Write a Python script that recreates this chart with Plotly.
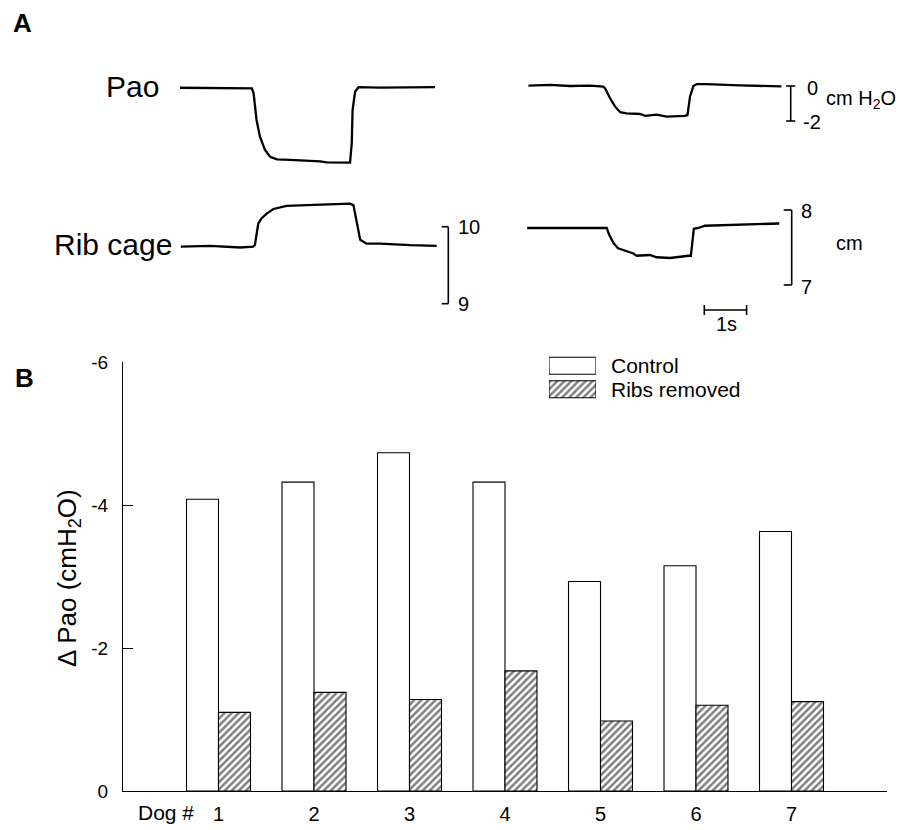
import plotly.graph_objects as go

W, H = 910, 830
OFF = 8  # page offset of the plot div (body margin)
FONT = "Liberation Sans, Arial, Helvetica, sans-serif"

# ---------------- Panel A data ----------------
# time in s, Pao in cmH2O, rib cage in cm
pao_ctrl_t = [0.00, 0.47, 0.95, 1.42, 1.70, 1.74, 1.81, 1.89, 2.01, 2.13, 2.29, 2.60, 3.00, 3.31,
              3.47, 3.78, 4.02, 4.06, 4.08, 4.14, 4.22, 4.73, 5.44, 6.03]
pao_ctrl_v = [-0.10, -0.11, -0.10, -0.13, -0.13, -0.42, -1.94, -2.90, -3.66, -4.04, -4.19, -4.22,
              -4.25, -4.31, -4.36, -4.37, -4.38, -3.27, -1.37, -0.33, -0.07, -0.09, -0.09, -0.07]

rib_ctrl_t = [0.02, 0.71, 1.42, 1.73, 1.77, 1.81, 1.85, 1.93, 2.05, 2.21, 2.52, 3.00, 3.47, 4.02,
              4.10, 4.18, 4.26, 4.41, 4.73, 5.44, 6.07]
rib_ctrl_v = [9.74, 9.75, 9.73, 9.74, 9.76, 9.91, 10.04, 10.11, 10.17, 10.23, 10.27, 10.28, 10.29,
              10.30, 10.28, 10.04, 9.83, 9.78, 9.78, 9.76, 9.75]

pao_rem_t = [0.01, 0.52, 0.99, 1.47, 1.78, 1.82, 1.94, 2.06, 2.18, 2.33, 2.65, 2.77, 3.04, 3.28,
             3.71, 3.77, 3.83, 3.91, 3.99, 4.22, 5.01, 5.99]
pao_rem_v = [0.02, 0.06, 0.00, 0.02, -0.04, -0.13, -0.70, -1.18, -1.50, -1.56, -1.60, -1.71, -1.64,
             -1.75, -1.71, -1.66, -0.61, 0.00, 0.11, 0.11, 0.03, -0.02]

rib_rem_t = [-0.02, 0.76, 1.47, 1.86, 1.92, 2.02, 2.13, 2.33, 2.49, 2.57, 2.88, 3.04, 3.36, 3.79,
             3.85, 3.92, 4.03, 4.18, 4.85, 5.94]
rib_rem_v = [7.76, 7.76, 7.76, 7.76, 7.67, 7.56, 7.49, 7.45, 7.42, 7.39, 7.40, 7.37, 7.36, 7.39,
             7.39, 7.75, 7.76, 7.79, 7.80, 7.82]

# scale bars
pao_scale = [0, -2]          # cm H2O
rib_ctrl_scale = [10, 9]     # cm
rib_rem_scale = [8, 7]       # cm
time_scale = 1               # s

# ---------------- Panel B data ----------------
dogs = [1, 2, 3, 4, 5, 6, 7]
control = [-4.08, -4.32, -4.73, -4.32, -2.93, -3.15, -3.63]
ribs_removed = [-1.10, -1.38, -1.28, -1.68, -0.98, -1.20, -1.25]
series_names = ["Control", "Ribs removed"]
y_ticks = [0, -2, -4, -6]
y_ticktext = ["0", "-2", "-4", "-6"]


def px(x):
    """target screen x pixel -> paper fraction"""
    return (x - OFF) / W


def py(y):
    """target screen y pixel -> paper fraction"""
    return 1 - (y - OFF) / H


PX_PER_S = 42.3


def t_left(p):
    return (p - 180) / PX_PER_S


def t_right(p):
    return (p - 528) / PX_PER_S


def v_pao(p):
    return -(p - 86) / 17.5


def v_ribL(p):
    return 10 - (p - 226.7) / 77


def v_ribR(p):
    return 8 - (p - 210) / 75


fig = go.Figure()

line = dict(color="black", width=2.3)
fig.add_trace(go.Scatter(x=pao_ctrl_t, y=pao_ctrl_v, mode="lines", line=line,
                         xaxis="x2", yaxis="y2", showlegend=False, hoverinfo="skip"))
fig.add_trace(go.Scatter(x=rib_ctrl_t, y=rib_ctrl_v, mode="lines", line=line,
                         xaxis="x2", yaxis="y3", showlegend=False, hoverinfo="skip"))
fig.add_trace(go.Scatter(x=pao_rem_t, y=pao_rem_v, mode="lines", line=line,
                         xaxis="x3", yaxis="y2", showlegend=False, hoverinfo="skip"))
fig.add_trace(go.Scatter(x=rib_rem_t, y=rib_rem_v, mode="lines", line=line,
                         xaxis="x3", yaxis="y4", showlegend=False, hoverinfo="skip"))

hatch = dict(size=5, solidity=0.5, fgcolor="black", bgcolor="white")
# Panel B bars
fig.add_trace(go.Bar(x=dogs, y=control, name=series_names[0],
                     marker=dict(color="white", line=dict(color="black", width=1.1)),
                     xaxis="x", yaxis="y", showlegend=False))
fig.add_trace(go.Bar(x=dogs, y=ribs_removed, name=series_names[1],
                     marker=dict(color="white", line=dict(color="black", width=1.1),
                                 pattern=dict(shape="/", **hatch)),
                     xaxis="x", yaxis="y", showlegend=False))

# legend swatches (one bar per series)
fig.add_trace(go.Bar(y=series_names, x=[1, 1], orientation="h", width=0.72,
                     marker=dict(color="white", line=dict(color="black", width=1.1),
                                 pattern=dict(shape=["", "/"], **hatch)),
                     xaxis="x4", yaxis="y6", showlegend=False, hoverinfo="skip"))

# domains (target pixels)
A_top, A_bot = OFF, 330
L_l, L_r = OFF, 455
R_l, R_r = 455, W + OFF - 1

hidden = dict(visible=False, fixedrange=True, automargin=False)

fig.update_layout(
    width=W, height=H,
    margin=dict(l=0, r=0, t=0, b=0, autoexpand=False),
    paper_bgcolor="white", plot_bgcolor="rgba(0,0,0,0)",
    font=dict(family=FONT, color="black"),
    barmode="group", bargap=0.33, bargroupgap=0,
    xaxis=dict(domain=[px(123), px(887)], range=[0, 8], anchor="y", automargin=False,
               tickvals=dogs, ticktext=[str(d) for d in dogs], ticks="",
               showline=True, linecolor="black", linewidth=1.2, showgrid=False,
               zeroline=False, tickfont=dict(size=20), ticklabelstandoff=5),
    yaxis=dict(domain=[py(791), py(362)], range=[0, -6], anchor="x", automargin=False,
               tickvals=y_ticks, ticktext=y_ticktext, ticks="inside", ticklen=10,
               tickwidth=1.2, tickcolor="black",
               showline=True, linecolor="black", linewidth=1.2, showgrid=False,
               zeroline=False, tickfont=dict(size=19), ticklabelstandoff=10),
    xaxis2=dict(domain=[px(L_l), px(L_r)], range=[t_left(L_l), t_left(L_r)], anchor="y2", **hidden),
    xaxis3=dict(domain=[px(R_l), px(R_r)], range=[t_right(R_l), t_right(R_r)], anchor="y4", **hidden),
    yaxis2=dict(domain=[py(A_bot), py(A_top)], range=[v_pao(A_bot), v_pao(A_top)], anchor="x2", **hidden),
    yaxis3=dict(domain=[py(A_bot), py(A_top)], range=[v_ribL(A_bot), v_ribL(A_top)], anchor="x2", **hidden),
    yaxis4=dict(domain=[py(A_bot), py(A_top)], range=[v_ribR(A_bot), v_ribR(A_top)], anchor="x3", **hidden),
    xaxis4=dict(domain=[px(549), px(596)], range=[0, 1], anchor="y6", **hidden),
    yaxis6=dict(domain=[py(401), py(354)], type="category", range=[1.5, -0.5],
                anchor="x4", **hidden),
)

shapes = []
blk = dict(color="black", width=1.6)
# Pao scale bracket (I-shape) beside the right traces
bx = t_right(790.7)
ser = 4.5 / PX_PER_S
shapes.append(dict(type="line", xref="x3", yref="y2", x0=bx, x1=bx,
                   y0=pao_scale[0], y1=pao_scale[1], line=blk))
for v in pao_scale:
    shapes.append(dict(type="line", xref="x3", yref="y2", x0=bx - ser, x1=bx + ser,
                       y0=v, y1=v, line=blk))
# rib right bracket
bx2 = t_right(791.7)
ser2 = 8 / PX_PER_S
shapes.append(dict(type="line", xref="x3", yref="y4", x0=bx2, x1=bx2,
                   y0=rib_rem_scale[0], y1=rib_rem_scale[1], line=blk))
for v in rib_rem_scale:
    shapes.append(dict(type="line", xref="x3", yref="y4", x0=bx2 - ser2, x1=bx2,
                       y0=v, y1=v, line=blk))
# rib left bracket
bx3 = t_left(448.3)
ser3 = 6.6 / PX_PER_S
shapes.append(dict(type="line", xref="x2", yref="y3", x0=bx3, x1=bx3,
                   y0=rib_ctrl_scale[0], y1=rib_ctrl_scale[1], line=blk))
for v in rib_ctrl_scale:
    shapes.append(dict(type="line", xref="x2", yref="y3", x0=bx3 - ser3, x1=bx3,
                       y0=v, y1=v, line=blk))
# time scale bar
tx0 = t_right(704.3)
ty = v_ribR(310)
tick_h = 5 / 75
shapes.append(dict(type="line", xref="x3", yref="y4", x0=tx0, x1=tx0 + time_scale,
                   y0=ty, y1=ty, line=blk))
for xx in [tx0, tx0 + time_scale]:
    shapes.append(dict(type="line", xref="x3", yref="y4", x0=xx, x1=xx,
                       y0=ty - tick_h, y1=ty + tick_h, line=blk))
fig.update_layout(shapes=shapes)

ann = []


def text(t, x, y, size, xanchor="left", yanchor="middle", bold=False, angle=0):
    ann.append(dict(text=f"<b>{t}</b>" if bold else t, x=px(x), y=py(y), xref="paper",
                    yref="paper", xanchor=xanchor, yanchor=yanchor, showarrow=False,
                    font=dict(size=size, family=FONT, color="black"), textangle=angle))


text("A", 11, 23, 26, bold=True)
text("B", 13, 378, 26, bold=True)
text("Pao", 161, 86, 30, xanchor="right")
text("Rib cage", 174, 244, 30, xanchor="right")
text(str(pao_scale[0]), 805, 88, 20)
text(str(pao_scale[1]), 801, 122, 20)
text("cm H<sub>2</sub>O", 824, 100, 20)
text(str(rib_ctrl_scale[0]), 456, 227, 20)
text(str(rib_ctrl_scale[1]), 456, 304, 20)
text(str(rib_rem_scale[0]), 799, 211, 20)
text(str(rib_rem_scale[1]), 799, 287, 20)
text("cm", 834, 243, 20)
text(f"{time_scale}s", 726, 324, 20, xanchor="center")
text("Dog #", 136, 812, 21)
text("Δ Pao (cmH<sub>2</sub>O)", 68, 578, 26, xanchor="center", angle=-90)
for name in series_names:
    ann.append(dict(text=name, x=px(609), y=name, xref="paper", yref="y6",
                    xanchor="left", yanchor="middle", showarrow=False,
                    font=dict(size=21, family=FONT, color="black")))
fig.update_layout(annotations=ann)

fig.write_html("out.html")
